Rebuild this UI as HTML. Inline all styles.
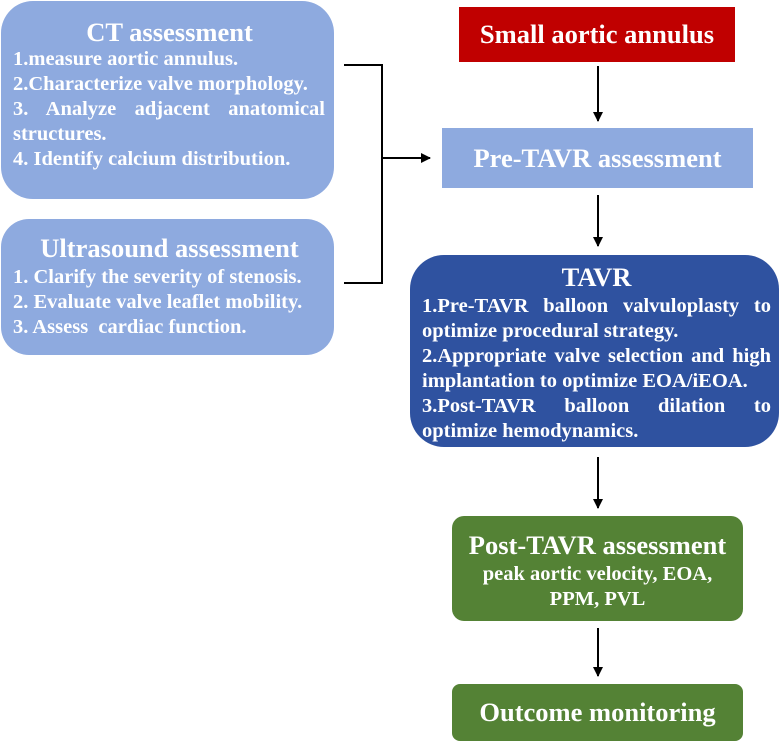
<!DOCTYPE html>
<html><head><style>
body{margin:0;width:782px;height:743px;background:#fff;position:relative;overflow:hidden;font-family:"Liberation Serif",serif;font-weight:bold;color:#fff}
.b{position:absolute;box-sizing:border-box}
.t{text-align:center;font-size:26.5px;line-height:30px;white-space:nowrap}
.l{font-size:20.5px;line-height:25px;white-space:nowrap}
.j{text-align:justify;text-align-last:justify;white-space:normal}
</style></head><body>
<div class="b" style="left:1px;top:1px;width:333px;height:198px;background:#8eaadf;border-radius:32px;padding:16px 8px 0 12px">
<div class="t">CT assessment</div>
<div class="l">1.measure aortic annulus.</div>
<div class="l">2.Characterize valve morphology.</div>
<div class="l j" style="width:312px">3. Analyze adjacent anatomical</div>
<div class="l">structures.</div>
<div class="l">4. Identify calcium distribution.</div>
</div>
<div class="b" style="left:1px;top:219px;width:333px;height:136px;background:#8eaadf;border-radius:28px;padding:14px 8px 0 12px">
<div class="t">Ultrasound assessment</div>
<div class="l" style="margin-top:2px">1. Clarify the severity of stenosis.</div>
<div class="l">2. Evaluate valve leaflet mobility.</div>
<div class="l">3. Assess&nbsp; cardiac function.</div>
</div>
<div class="b" style="left:459px;top:7px;width:276px;height:55px;background:#c00000;font-size:26.5px;text-align:center;line-height:55px">Small aortic annulus</div>
<div class="b" style="left:442px;top:128px;width:311px;height:60px;background:#8eaadf;font-size:26.5px;text-align:center;line-height:60px">Pre-TAVR assessment</div>
<div class="b" style="left:410px;top:255px;width:369px;height:192px;background:#2f52a0;border-radius:34px;padding:7px 8px 0 12px">
<div class="t">TAVR</div>
<div class="l j" style="width:349px;margin-top:2px">1.Pre-TAVR balloon valvuloplasty to</div>
<div class="l">optimize procedural strategy.</div>
<div class="l j" style="width:349px">2.Appropriate valve selection and high</div>
<div class="l">implantation to optimize EOA/iEOA.</div>
<div class="l j" style="width:349px">3.Post-TAVR balloon dilation to</div>
<div class="l">optimize hemodynamics.</div>
</div>
<div class="b" style="left:452px;top:516px;width:291px;height:105px;background:#548235;border-radius:12px;padding-top:14px;text-align:center">
<div class="t">Post-TAVR assessment</div>
<div class="l" style="margin-top:2px">peak aortic velocity, EOA,</div>
<div class="l">PPM, PVL</div>
</div>
<div class="b" style="left:452px;top:684px;width:291px;height:57px;background:#548235;border-radius:8px;font-size:26.5px;text-align:center;line-height:57px">Outcome monitoring</div>
<svg class="b" style="left:0;top:0" width="782" height="743">
<defs><marker id="a" markerWidth="10" markerHeight="10" refX="9" refY="5" orient="auto" markerUnits="userSpaceOnUse"><path d="M0,0L10,5L0,10z" fill="#000"/></marker></defs>
<g stroke="#000" stroke-width="2" fill="none">
<polyline points="344,65 382,65 382,283 344,283"/>
<line x1="382" y1="158" x2="430" y2="158" marker-end="url(#a)"/>
<line x1="598" y1="66" x2="598" y2="121" marker-end="url(#a)"/>
<line x1="598" y1="195" x2="598" y2="246" marker-end="url(#a)"/>
<line x1="598" y1="457" x2="598" y2="508" marker-end="url(#a)"/>
<line x1="598" y1="628" x2="598" y2="676" marker-end="url(#a)"/>
</g></svg>
</body></html>
